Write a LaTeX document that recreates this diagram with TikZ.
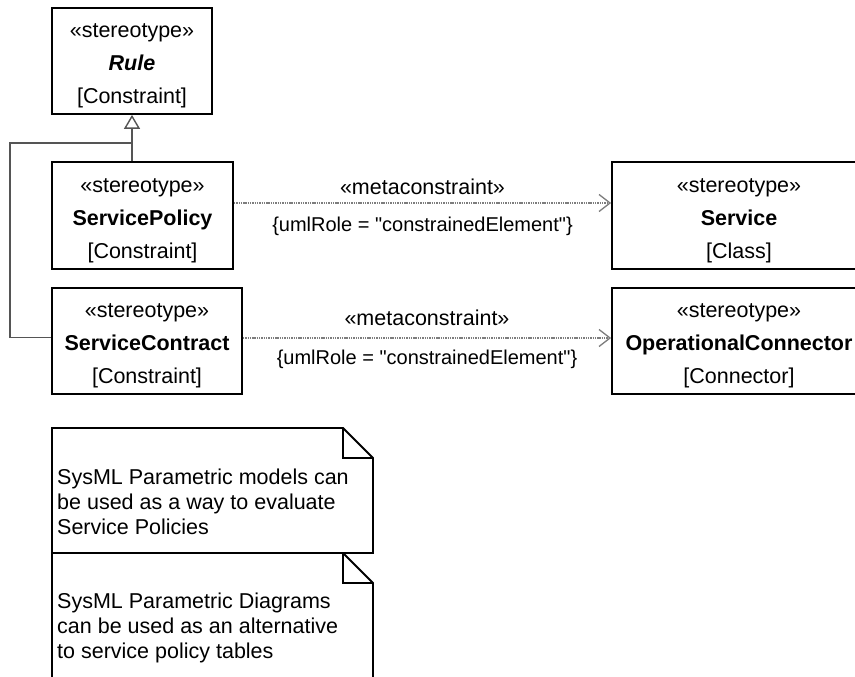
\documentclass[tikz,border=0pt]{standalone}
\usepackage{fontspec}
\setmainfont{Liberation Sans}
\usetikzlibrary{arrows.meta,calc}
\definecolor{genc}{RGB}{85,85,85}
\definecolor{metac}{RGB}{125,125,125}
\newcommand{\topstr}{\rule{0pt}{23.5pt}}
\begin{document}
\begin{tikzpicture}[x=1pt,y=-1pt,
  umlbox/.style={draw=black, line width=1.8pt, rectangle, inner sep=0pt, align=center,
    font=\fontsize{21.5}{33}\selectfont},
  genline/.style={draw=genc, line width=1.6pt},
  metaline/.style={draw=metac, line width=1.3pt, dash pattern=on 1.4pt off 0.9pt,
    -{Straight Barb[length=11pt,width=17pt,line width=1.3pt,line cap=butt]}},
  lbl/.style={inner sep=0pt, font=\fontsize{21.5}{25}\selectfont},
  rlbl/.style={inner sep=0pt, font=\fontsize{20}{25}\selectfont},
  notebox/.style={draw=black, line width=1.8pt, fill=white},
  notetext/.style={inner sep=0pt, align=left, anchor=north west, font=\fontsize{21.5}{25}\selectfont}
]
\useasboundingbox (0,0) rectangle (855,677);
\fill[white] (0,0) rectangle (855,677);
\clip (0,0) rectangle (855,677);

% boxes
\node[umlbox, minimum width=160, minimum height=106] (rule) at (132,61)
  {\topstr«stereotype»\\\textbf{\textit{Rule}}\\{[Constraint]}};
\node[umlbox, minimum width=181, minimum height=107] (sp) at (142.5,215.5)
  {\topstr«stereotype»\\\textbf{ServicePolicy}\\{[Constraint]}};
\node[umlbox, minimum width=190, minimum height=106] (sc) at (147,341)
  {\topstr«stereotype»\\\textbf{ServiceContract}\\{[Constraint]}};
\node[umlbox, minimum width=254, minimum height=107] (svc) at (739,215.5)
  {\topstr«stereotype»\\\textbf{Service}\\{[Class]}};
\node[umlbox, minimum width=254, minimum height=106] (oc) at (739,341)
  {\topstr«stereotype»\\\textbf{OperationalConnector}\\{[Connector]}};

% generalization
\coordinate (j) at (132,143);
\coordinate (k) at (10,143);
\draw[genline] ([yshift=3.5pt]sc.west) -| (k) -- (j);
\draw[genline, -{Triangle[length=14pt,width=16pt,fill=white,line width=1.4pt]}]
  (sp.north -| rule.south) -- (rule.south);

% metaconstraints
\draw[metaline] ([yshift=12.5pt]sp.east) -- ([yshift=12.5pt]svc.west)
  node[lbl, midway, yshift=16pt] (m1) {«metaconstraint»}
  node[rlbl, midway, yshift=-23pt] (r1) {\{umlRole = \textquotedbl constrainedElement\textquotedbl\}};
\draw[metaline] ([yshift=3pt]sc.east) -- ([yshift=3pt]oc.west)
  node[lbl, midway, yshift=20pt] (m2) {«metaconstraint»}
  node[rlbl, midway, yshift=-21pt] (r2) {\{umlRole = \textquotedbl constrainedElement\textquotedbl\}};

% notes
\draw[notebox] (52,428) -- (343,428) -- (373,458) -- (373,553) -- (52,553) -- cycle;
\draw[line width=1.8pt] (343,428) -- (343,458) -- (373,458);
\node[notetext] (n1) at (57,469)
  {SysML Parametric models can\\be used as a way to evaluate\\Service Policies};

\draw[notebox] (52,553) -- (343,553) -- (373,583) -- (373,700) -- (52,700) -- cycle;
\draw[line width=1.8pt] (343,553) -- (343,583) -- (373,583);
\node[notetext] (n2) at (57,593)
  {SysML Parametric Diagrams\\can be used as an alternative\\to service policy tables};
\end{tikzpicture}
\end{document}
